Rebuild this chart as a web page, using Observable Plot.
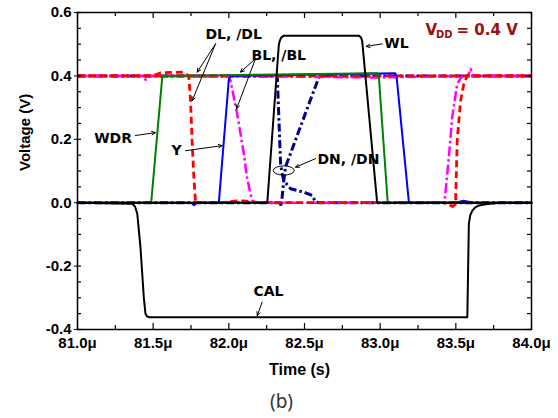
<!DOCTYPE html>
<html><head><meta charset="utf-8">
<script src="https://cdn.jsdelivr.net/npm/d3@7"></script>
<script src="https://cdn.jsdelivr.net/npm/@observablehq/plot@0.6"></script>
<style>
body{margin:0;background:#fff;}
</style></head><body><div id="chart"></div>
<script>
// ---- series (time in µs, voltage in V) ----
const wdrT = [81.0, 81.487, 81.56, 81.57, 82.98, 82.991, 83.05, 84.0];
const wdrV = [0.0, 0.0, 0.396, 0.4, 0.408, 0.4, 0.0, 0.0];

const yT = [81.0, 81.75, 81.77, 81.79, 81.934, 82.0, 82.01, 83.1, 83.108, 83.19, 83.5, 83.55, 83.62, 84.0];
const yV = [0.0, 0.0, -0.008, 0.0, 0.0, 0.39, 0.4, 0.408, 0.4, 0.0, 0.0, 0.006, 0.0, 0.0];

const dlT = [81.0, 81.5, 81.55, 81.7, 81.735, 81.747, 81.758, 81.769, 81.78, 81.95, 82.05, 82.12, 82.2, 83.42, 83.48, 83.498, 83.509, 83.531, 83.553, 83.575, 84.0];
const dlV = [0.4, 0.4, 0.41, 0.412, 0.4, 0.32, 0.186, 0.08, 0.0, 0.0, 0.006, 0.005, 0.0, 0.0, -0.012, -0.005, 0.196, 0.32, 0.375, 0.4, 0.4];
const dlbT = [81.0, 82.0, 83.0, 84.0];
const dlbV = [0.4, 0.4, 0.4, 0.4];

const blT = [81.0, 82.0, 82.011, 82.033, 82.055, 82.077, 82.099, 82.12, 82.143, 82.155, 82.17, 83.425, 83.454, 83.476, 83.509, 83.542, 84.0];
const blV = [0.4, 0.4, 0.385, 0.333, 0.281, 0.218, 0.155, 0.08, 0.028, 0.007, 0.0, 0.0, 0.144, 0.27, 0.375, 0.4, 0.4];
const blbT = [81.0, 81.43, 81.45, 81.47, 82.3, 83.0, 83.58, 83.597, 83.615, 84.0];
const blbV = [0.4, 0.4, 0.388, 0.4, 0.398, 0.395, 0.4, 0.422, 0.4, 0.4];

const dnT = [81.0, 82.32, 82.342, 82.353, 82.363, 82.408, 82.496, 82.551, 82.573, 82.6, 84.0];
const dnV = [0.4, 0.4, 0.123, 0.091, 0.07, 0.044, 0.033, 0.023, 0.002, 0.0, 0.0];
const dnbT = [81.0, 82.34, 82.346, 82.363, 82.374, 82.595, 82.62, 84.0];
const dnbV = [0.0, 0.0, -0.012, 0.07, 0.112, 0.396, 0.4, 0.4];

const wlT = [81.0, 82.254, 82.33, 82.336, 82.345, 82.363, 82.859, 82.872, 82.881, 82.98, 84.0];
const wlV = [0.0, 0.0, 0.496, 0.51, 0.52, 0.527, 0.527, 0.522, 0.511, 0.0, 0.0];

const calT = [81.0, 81.361, 81.38, 81.395, 81.416, 81.438, 81.449, 81.458, 81.471, 83.45, 83.576, 83.586, 83.595, 83.609, 83.63, 83.652, 83.708, 83.8, 84.0];
const calV = [0.0, -0.003, -0.012, -0.035, -0.14, -0.298, -0.35, -0.358, -0.361, -0.361, -0.361, -0.067, -0.04, -0.025, -0.014, -0.009, -0.004, 0.0, 0.0];

// ---- ticks ----
const xMajor = [81.0, 81.5, 82.0, 82.5, 83.0, 83.5, 84.0];
const xMinor = [81.25, 81.75, 82.25, 82.75, 83.25, 83.75];
const yMajor = [-0.4, -0.2, 0.0, 0.2, 0.4, 0.6];
const yMinor = [-0.35, -0.3, -0.25, -0.15, -0.1, -0.05, 0.05, 0.1, 0.15, 0.25, 0.3, 0.35, 0.45, 0.5, 0.55];

// ---- annotations ----
const labelText = ["DL, /DL", "BL, /BL", "WL", "WDR", "Y", "DN, /DN", "CAL"];
const labelT = [82.032, 82.33, 83.108, 81.235, 81.654, 82.79, 82.262];
const labelV = [0.53, 0.464, 0.502, 0.2025, 0.164, 0.136, -0.28];

const arrowT1 = [81.912, 81.912, 82.176, 82.176, 81.383, 81.714, 82.573, 83.013, 82.22];
const arrowV1 = [0.501, 0.501, 0.454, 0.454, 0.212, 0.164, 0.139, 0.501, -0.314];
const arrowT2 = [81.791, 81.758, 82.077, 82.051, 81.515, 81.956, 82.441, 82.908, 82.188];
const arrowV2 = [0.412, 0.322, 0.412, 0.296, 0.221, 0.18, 0.112, 0.493, -0.356];

const ellipseT = 82.366, ellipseV = 0.10;
const vddT = 83.30, vddV = 0.543;

// ---- build tables ----
const ser = (name, T, V) => T.map((t, i) => ({name, t, v: V[i]}));
const navy = [...ser("DN", dnT, dnV), ...ser("/DN", dnbT, dnbV)];
const magenta = [...ser("BL", blT, blV), ...ser("/BL", blbT, blbV)];
const red = [...ser("DL", dlT, dlV), ...ser("/DL", dlbT, dlbV)];
const blue = ser("Y", yT, yV);
const green = ser("WDR", wdrT, wdrV);
const black = [...ser("WL", wlT, wlV), ...ser("CAL", calT, calV)];
const labels = labelText.map((s, i) => ({s, t: labelT[i], v: labelV[i]}));
const arrows = arrowT1.map((t, i) => ({x1: t, y1: arrowV1[i], x2: arrowT2[i], y2: arrowV2[i]}));

const W = 454, H = 317;
const annFont = {fontFamily: "DejaVu Sans", fontWeight: "bold", fontSize: 14, fill: "black"};
const curve = "linear";

const chart = Plot.plot({
  width: 558, height: 418,
  marginLeft: 77, marginRight: 27, marginTop: 12, marginBottom: 89,
  x: {domain: [81, 84]},
  y: {domain: [-0.4, 0.6]},
  style: {fontFamily: "'Liberation Sans', Arial, sans-serif", fontSize: "15px", fontWeight: "bold", color: "black", background: "white"},
  marks: [
    Plot.line(navy, {x: "t", y: "v", z: "name", stroke: "#00008b", strokeWidth: 3, strokeDasharray: "8,3,2.5,3", strokeLinecap: "butt", curve}),
    Plot.line(magenta, {x: "t", y: "v", z: "name", stroke: "#ff00ff", strokeWidth: 2.5, strokeDasharray: "10,3,2.5,3", strokeLinecap: "butt", curve}),
    Plot.line(red, {x: "t", y: "v", z: "name", stroke: "#ff0000", strokeWidth: 2.8, strokeDasharray: "7,4", strokeLinecap: "butt", curve}),
    Plot.line(blue, {x: "t", y: "v", stroke: "#0000ff", strokeWidth: 2, curve}),
    Plot.line(green, {x: "t", y: "v", stroke: "#008000", strokeWidth: 2, curve}),
    Plot.line(black, {x: "t", y: "v", z: "name", stroke: "black", strokeWidth: 2, curve}),
    // frame and inward ticks
    Plot.frame({stroke: "black", strokeWidth: 1.5}),
    Plot.tickX(xMajor, {x: d => d, insetTop: H - 6, stroke: "black", strokeWidth: 1.2}),
    Plot.tickX(xMinor, {x: d => d, insetTop: H - 4, stroke: "black", strokeWidth: 1.2}),
    Plot.tickX(xMajor, {x: d => d, insetBottom: H - 6, stroke: "black", strokeWidth: 1.2}),
    Plot.tickX(xMinor, {x: d => d, insetBottom: H - 4, stroke: "black", strokeWidth: 1.2}),
    Plot.tickY([...yMajor, ...yMinor], {y: d => d, insetRight: W - 4, stroke: "black", strokeWidth: 1.2}),
    Plot.tickY([...yMajor, ...yMinor], {y: d => d, insetLeft: W - 4, stroke: "black", strokeWidth: 1.2}),
    Plot.axisX(xMajor, {tickSize: 0, tickPadding: 8, tickFormat: d => d.toFixed(1) + "μ", label: null, fontSize: 15, fontWeight: "bold"}),
    Plot.axisY(yMajor, {tickSize: 3, tickPadding: 3, tickFormat: d => d.toFixed(1), label: null, fontSize: 15, fontWeight: "bold"}),
    // axis titles & caption
    Plot.text(["Time (s)"], {frameAnchor: "bottom", dx: -5, dy: 45, fontSize: 16, fontWeight: "bold", fontFamily: "'Liberation Sans', Arial"}),
    Plot.text(["Voltage (V)"], {frameAnchor: "left", dx: -52, rotate: -90, fontSize: 15, fontWeight: "bold", fontFamily: "'Liberation Sans', Arial"}),
    Plot.text(["(b)"], {frameAnchor: "bottom", dx: -23, dy: 78, fontSize: 19, fontWeight: "normal", fontFamily: "'Noto Sans', sans-serif", fill: "#333"}),
    // annotations
    Plot.arrow(arrows, {x1: "x1", y1: "y1", x2: "x2", y2: "y2", stroke: "black", strokeWidth: 1, headLength: 6, headAngle: 50}),
    Plot.text(labels, {x: "t", y: "v", text: "s", ...annFont}),
    (index, scales) => {
      const el = document.createElementNS("http://www.w3.org/2000/svg", "ellipse");
      el.setAttribute("cx", scales.x(ellipseT));
      el.setAttribute("cy", scales.y(ellipseV));
      el.setAttribute("rx", 10.5);
      el.setAttribute("ry", 4.6);
      el.setAttribute("fill", "none");
      el.setAttribute("stroke", "black");
      el.setAttribute("stroke-width", 1);
      return el;
    },
    Plot.text(["V"], {x: () => vddT, y: () => vddV, textAnchor: "start", fill: "#9c0f0f", fontFamily: "DejaVu Sans", fontWeight: "bold", fontSize: 15}),
    Plot.text(["DD"], {x: () => vddT, y: () => vddV, dx: 10.5, dy: 4, textAnchor: "start", fill: "#9c0f0f", fontFamily: "DejaVu Sans", fontWeight: "bold", fontSize: 10}),
    Plot.text(["= 0.4 V"], {x: () => vddT, y: () => vddV, dx: 31, textAnchor: "start", fill: "#9c0f0f", fontFamily: "DejaVu Sans", fontWeight: "bold", fontSize: 15})
  ]
});
document.getElementById("chart").appendChild(chart);
</script>
</body></html>
